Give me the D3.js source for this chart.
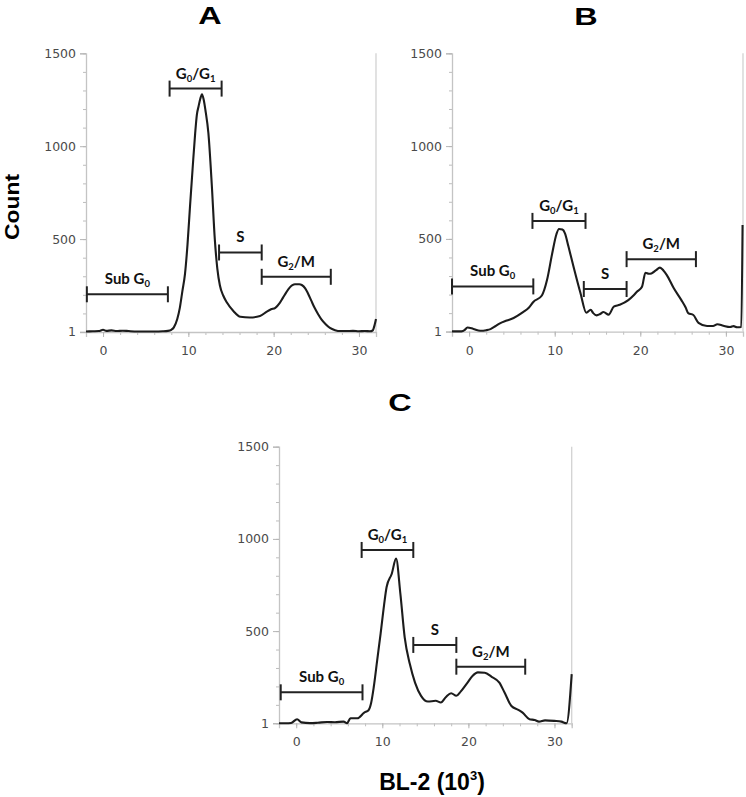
<!DOCTYPE html>
<html>
<head>
<meta charset="utf-8">
<script src="https://cdn.jsdelivr.net/npm/d3@7"></script>
<style>
  html, body { margin: 0; padding: 0; background: #fff; }
  svg { display: block; }
</style>
</head>
<body>
<svg id="chart" width="746" height="797"></svg>
<script>
// ---------- data ----------
const xDomain = [-2, 32];
const yDomain = [0, 1500];
const yTickValues = [1, 500, 1000, 1500];
const yTickLabels = ["1", "500", "1000", "1500"];
const xTickValues = [0, 10, 20, 30];
const xTickLabels = ["0", "10", "20", "30"];
const panelTitles = ["A", "B", "C"];
const yAxisTitle = "Count";
const xAxisTitle = "BL-2 (10";
const xAxisTitleSup = "3";
const xAxisTitleEnd = ")";

// histogram A
const histAx = [-2, -1.2, -0.5, 0, 0.4, 1, 1.6, 2.3, 3, 4, 5, 6, 7, 7.6, 8.0, 8.3, 8.7, 9.0, 9.3, 9.6, 9.9, 10.2, 10.5, 10.8, 11.0, 11.2, 11.4, 11.6, 11.8, 12.0, 12.35, 12.75, 13.1, 13.4, 13.7, 14.1, 14.5, 15.3, 16.1, 17.2, 18.4, 19.2, 19.7, 20.2, 20.7, 21.1, 21.5, 21.9, 22.2, 22.5, 23.0, 23.3, 23.7, 24.0, 24.4, 24.8, 25.2, 25.6, 26.1, 26.6, 27.2, 27.8, 28.5, 29.3, 30.0, 30.7, 31.3, 31.6, 31.85, 32];
const histAy = [3, 4, 5, 12, 6, 9, 5, 7, 5, 3, 3, 3, 4, 6, 12, 25, 70, 130, 220, 310, 470, 680, 880, 1070, 1170, 1215, 1255, 1280, 1250, 1195, 1070, 790, 500, 340, 250, 195, 160, 112, 82, 78, 86, 110, 122, 130, 155, 185, 215, 240, 252, 257, 257, 253, 235, 210, 170, 130, 97, 68, 42, 22, 10, 5, 5, 6, 4, 5, 4, 8, 40, 70];

// histogram B
const histBx = [-2, -0.9, -0.5, -0.2, 0.5, 1.3, 2.0, 2.5, 3.0, 3.6, 4.4, 5.2, 6.3, 7.0, 7.5, 8.5, 9.1, 9.7, 10.2, 10.5, 10.9, 11.2, 11.6, 12.2, 13.0, 13.7, 14.2, 14.5, 14.9, 15.3, 15.7, 16.3, 16.9, 17.6, 18.6, 19.2, 19.6, 20.2, 20.6, 21.0, 21.3, 21.8, 22.3, 22.7, 23.1, 23.9, 24.8, 25.3, 25.6, 26.2, 26.8, 27.8, 28.5, 29.0, 29.7, 30.5, 30.9, 31.3, 31.8, 31.95];
const histBy = [2, 2, 10, 23, 15, 5, 8, 14, 28, 45, 60, 74, 105, 130, 160, 195, 278, 420, 525, 553, 550, 530, 460, 350, 210, 102, 118, 100, 88, 95, 106, 92, 135, 145, 170, 195, 215, 242, 318, 312, 314, 330, 345, 330, 305, 235, 170, 130, 100, 90, 48, 31, 31, 40, 32, 25, 30, 24, 25, 575];

// histogram C
const histCx = [-2, -1.2, -0.6, 0.1, 0.6, 1.6, 2.5, 3.6, 4.5, 5.5, 5.9, 6.3, 7.1, 7.9, 8.4, 8.7, 9.0, 9.4, 9.8, 10.2, 10.5, 11.1, 11.6, 12.1, 12.6, 13.2, 13.8, 14.5, 15.3, 16.2, 16.8, 17.4, 18.0, 18.6, 19.1, 19.9, 20.5, 21.1, 21.9, 22.7, 23.6, 24.2, 25.0, 25.8, 26.3, 27.1, 27.7, 28.2, 28.9, 30.0, 30.8, 31.4, 32];
const histCy = [0, 0, 2, 22, 5, 1, 3, 7, 6, 9, 0, 27, 27, 58, 71, 110, 194, 340, 485, 640, 739, 811, 893, 702, 466, 321, 221, 149, 118, 122, 113, 143, 163, 149, 172, 221, 258, 276, 274, 252, 221, 167, 94, 73, 58, 22, 18, 9, 16, 13, 9, 0, 267];

// gates: [x start, x end, level]
const gateNames = [["Sub G", "0", ""], ["G", "0", "/G", "1"], ["S"], ["G", "2", "/M"]];
const gatesA = [[-1.9, 7.6, 203], [7.8, 13.9, 1310], [13.6, 18.6, 428], [18.6, 26.7, 297]];
const gatesB = [[-2.0, 7.5, 244], [7.4, 13.6, 597], [13.4, 18.4, 230], [18.4, 26.5, 391]];
const gatesC = [[-1.8, 7.7, 168], [7.6, 13.6, 940], [13.6, 18.6, 425], [18.6, 26.6, 307]];

// ---------- layout ----------
const panels = [
  { title: panelTitles[0], hx: histAx, hy: histAy, gates: gatesA, left: 86, right: 376, top: 53.3, bottom: 332, tx: 210, ty: 24 },
  { title: panelTitles[1], hx: histBx, hy: histBy, gates: gatesB, left: 452, right: 743, top: 53.3, bottom: 331.7, tx: 586, ty: 25 },
  { title: panelTitles[2], hx: histCx, hy: histCy, gates: gatesC, left: 279, right: 571.7, top: 446.7, bottom: 723.3, tx: 400, ty: 411 }
];

const svg = d3.select("#chart");
const axisColor = "#c4c4c4";
const labelColor = "#4a4a4a";
const lineColor = "#1c1c1c";

panels.forEach(p => {
  const x = d3.scaleLinear().domain(xDomain).range([p.left, p.right]);
  const y = d3.scaleLinear().domain(yDomain).range([p.bottom, p.top]);
  const g = svg.append("g");

  // minor y ticks
  const yMinor = g.append("g").attr("transform", `translate(${p.left},0)`)
    .call(d3.axisLeft(y).tickValues(d3.range(0, 1501, 100)).tickSize(3).tickFormat(""));
  yMinor.select(".domain").remove();
  yMinor.selectAll("line").attr("stroke", "#bdbdbd");

  // major y ticks
  const yMajor = g.append("g").attr("transform", `translate(${p.left},0)`)
    .call(d3.axisLeft(y).tickValues(yTickValues).tickSize(6).tickPadding(4)
      .tickFormat((d, i) => yTickLabels[i]));
  yMajor.select(".domain").attr("stroke", axisColor).attr("stroke-width", 1.3);
  yMajor.selectAll("line").attr("stroke", "#b5b5b5");
  yMajor.selectAll("text").attr("fill", labelColor)
    .style("font-family", "'DejaVu Sans', sans-serif").style("font-size", "12.5px");

  // minor x ticks
  const xMinor = g.append("g").attr("transform", `translate(0,${p.bottom})`)
    .call(d3.axisBottom(x).tickValues(d3.range(-2, 33, 2)).tickSize(3).tickFormat(""));
  xMinor.select(".domain").remove();
  xMinor.selectAll("line").attr("stroke", "#bdbdbd");

  // major x ticks
  const xMajor = g.append("g").attr("transform", `translate(0,${p.bottom})`)
    .call(d3.axisBottom(x).tickValues(xTickValues).tickSize(5).tickPadding(9)
      .tickFormat((d, i) => xTickLabels[i]));
  xMajor.select(".domain").attr("stroke", axisColor).attr("stroke-width", 1.3);
  xMajor.selectAll("line").attr("stroke", "#b5b5b5");
  xMajor.selectAll("text").attr("fill", labelColor)
    .style("font-family", "'DejaVu Sans', sans-serif").style("font-size", "12.5px");

  // right border
  g.append("line")
    .attr("x1", x(xDomain[1])).attr("x2", x(xDomain[1]))
    .attr("y1", y(yDomain[1])).attr("y2", y(yDomain[0]))
    .attr("stroke", "#d2d2d2").attr("stroke-width", 1.3);

  // histogram line
  const pts = p.hx.map((v, i) => [v, p.hy[i]]);
  g.append("path")
    .datum(pts)
    .attr("fill", "none")
    .attr("stroke", lineColor)
    .attr("stroke-width", 2.1)
    .attr("stroke-linejoin", "round")
    .attr("d", d3.line().x(d => x(d[0])).y(d => y(d[1])).curve(d3.curveMonotoneX));

  // gates
  p.gates.forEach((gt, i) => {
    const x1 = x(gt[0]), x2 = x(gt[1]), yy = y(gt[2]);
    const gg = g.append("g");
    gg.append("line").attr("x1", x1).attr("x2", x2).attr("y1", yy).attr("y2", yy)
      .attr("stroke", "#222").attr("stroke-width", 2);
    [x1, x2].forEach(xx => {
      gg.append("line").attr("x1", xx).attr("x2", xx).attr("y1", yy - 8).attr("y2", yy + 8)
        .attr("stroke", "#222").attr("stroke-width", 2);
    });
    const t = gg.append("text")
      .attr("x", (x1 + x2) / 2).attr("y", yy - 10)
      .attr("text-anchor", "middle")
      .attr("fill", "#111")
      .style("font-family", "Lato, 'Open Sans', sans-serif")
      .style("font-weight", "700")
      .style("font-size", "15px");
    const parts = gateNames[i];
    parts.forEach((part, k) => {
      const isSub = (k % 2 === 1);
      if (part === "") return;
      const ts = t.append("tspan").text(part);
      if (isSub) ts.attr("dy", 3).style("font-size", "9.5px");
      else if (k > 0) ts.attr("dy", -3);
    });
  });

  // panel title
  svg.append("text")
    .attr("transform", `translate(${p.tx},${p.ty}) scale(1.35,1)`)
    .attr("text-anchor", "middle")
    .attr("fill", "#000")
    .style("font-family", "'Liberation Sans', Arial, sans-serif")
    .style("font-weight", "700")
    .style("font-size", "24px")
    .text(p.title);
});

// y axis title
svg.append("text")
  .attr("transform", "translate(19,207) rotate(-90)")
  .attr("text-anchor", "middle")
  .attr("fill", "#000")
  .attr("textLength", 66)
  .attr("lengthAdjust", "spacingAndGlyphs")
  .style("font-family", "'Liberation Sans', Arial, sans-serif")
  .style("font-weight", "700")
  .style("font-size", "20px")
  .text(yAxisTitle);

// x axis title
const xt = svg.append("text")
  .attr("x", 432).attr("y", 790)
  .attr("text-anchor", "middle")
  .attr("fill", "#000")
  .style("font-family", "'Liberation Sans', Arial, sans-serif")
  .style("font-weight", "700")
  .style("font-size", "23px");
xt.append("tspan").text(xAxisTitle);
xt.append("tspan").attr("dy", -10).style("font-size", "13px").text(xAxisTitleSup);
xt.append("tspan").attr("dy", 10).text(xAxisTitleEnd);
</script>
</body>
</html>
